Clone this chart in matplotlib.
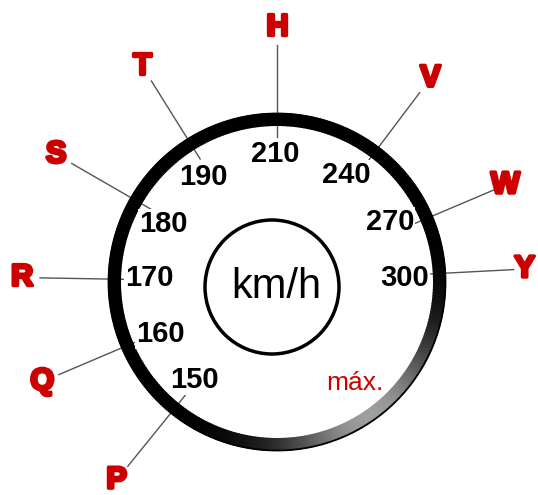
import numpy as np
import matplotlib
matplotlib.use("Agg")
import matplotlib.pyplot as plt
from matplotlib.patches import Wedge, Circle
import matplotlib.patheffects as pe

# speed rating letters and their max speeds (km/h)
letters = ["P", "Q", "R", "S", "T", "H", "V", "W", "Y"]
speeds = [150, 160, 170, 180, 190, 210, 240, 270, 300]
letter_angles = [231, 203, 179, 150, 122, 90, 53, 23, 3]
speed_angles = [230, 204, 178, 153, 125, 91, 57, 28, 2]
unit_label = "km/h"
max_label = "máx."

W, H = 538, 495
cx, cy = 277, H - 282
r_out, ring_w = 169, 13

plt.rcParams['font.family'] = ['Liberation Sans', 'DejaVu Sans']
fig = plt.figure(figsize=(W / 100, H / 100), dpi=100)
ax = fig.add_axes([0, 0, 1, 1])
ax.set_xlim(0, W)
ax.set_ylim(0, H)
ax.set_aspect('equal')
ax.axis('off')

# outer ring, black with a grey sheen bottom right
step = 1.0
for t in np.arange(-180, 180, step):
    g = 0.62 * np.exp(-((t + step / 2 + 55) / 32) ** 2)
    ax.add_patch(Wedge((cx, cy), r_out, t, t + step + 0.3, width=ring_w,
                       facecolor=(g, g, g), edgecolor='none', zorder=2))
ax.add_patch(Circle((cx, cy), r_out - 0.5, fill=False, edgecolor='black', lw=1.3, zorder=3))

# leader lines + letters
for lab, a in zip(letters, letter_angles):
    th = np.deg2rad(a)
    r0, r1 = 145, 237
    ax.plot([cx + r0 * np.cos(th), cx + r1 * np.cos(th)],
            [cy + r0 * np.sin(th), cy + r1 * np.sin(th)],
            color='#555555', lw=1.0, zorder=1)
    rl = 248 if np.cos(th) > 0.9 else 255
    ax.text(cx + rl * np.cos(th), cy + rl * np.sin(th), lab, color='#cc0000',
            fontsize=22, fontweight='bold', ha='center', va='center', zorder=4,
            path_effects=[pe.withStroke(linewidth=2.4, foreground='#cc0000')])

# speeds inside the ring
for s, a in zip(speeds, speed_angles):
    th = np.deg2rad(a)
    ax.text(cx + 128 * np.cos(th), cy + 128 * np.sin(th), str(s), color='black',
            fontsize=21, fontweight='bold', ha='center', va='center', zorder=4,
            bbox=dict(facecolor='white', edgecolor='none', pad=0.5))

# inner circle
icx, icy = 272, H - 287
ax.add_patch(Circle((icx, icy), 67, fill=False, edgecolor='black', lw=2.5, zorder=3))
ax.text(icx + 4, icy, unit_label, fontsize=30, ha='center', va='center', color='black')

ax.text(355, H - 383, max_label, fontsize=19, ha='center', va='center', color='#cc0000')

fig.savefig('out.png', dpi=100)
